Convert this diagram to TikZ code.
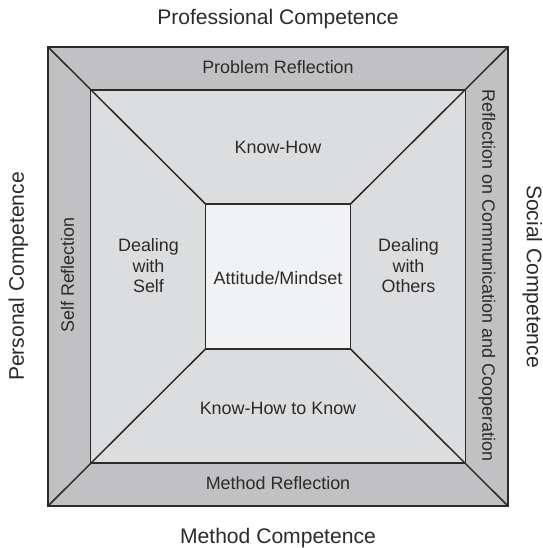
\documentclass[tikz,border=0pt]{standalone}
\usepackage{fontspec}
\setmainfont{Liberation Sans}
\definecolor{band}{HTML}{C1C1C4}
\definecolor{field}{HTML}{DCDDDF}
\definecolor{corefill}{HTML}{F1F2F4}
\definecolor{ink}{HTML}{2B2B2B}
\begin{document}
\begin{tikzpicture}[
	box/.style={draw=ink,line width=0.85pt,outer sep=0pt,inner sep=0pt},
	big/.style={font=\fontsize{12}{14}\selectfont,text=ink,anchor=base},
	small/.style={font=\fontsize{10.2}{11.7}\selectfont,text=ink,align=center}]
			\useasboundingbox(-5.56,-5.43) rectangle (5.30,5.53);
			\node[box,fill=band,minimum width=9.2cm,minimum height=9.18cm](outer) at(0,0){};
			\node[box,fill=field,minimum width=7.5cm,minimum height=7.46cm](inner) at(0,0){};
			\node[box,fill=corefill,minimum size=2.9cm](core) at(0,0){};
			\draw[ink,line width=0.85pt](outer.north west)--(core.north west);
			\draw[ink,line width=0.85pt](outer.north east)--(core.north east);
			\draw[ink,line width=0.85pt](outer.south west)--(core.south west);
			\draw[ink,line width=0.85pt](outer.south east)--(core.south east);
			% competences
			\node[big](prof) at(0,5.05){Professional Competence};
			\node[big](meth) at(0,-5.34){Method Competence};
			\node[big,rotate=90](pers) at(-5.08,0){Personal Competence};
			\node[big,rotate=-90](soc) at(4.98,0){Social Competence};
			% reflections
			\node[small,anchor=base](probref) at(0,4.06){Problem Reflection};
			\node[small,anchor=base](methref) at(0,-4.26){Method Reflection};
			\node[small,anchor=base,rotate=90](selfref) at(-4.08,0.03){Self Reflection};
			\node[small,anchor=base,rotate=-90](comref) at(4.09,0.02){Reflection on Communication and Cooperation};
			% fields
			\node[small,anchor=base](know) at(0,2.46){Know-How};
			\node[small,anchor=base](knowknow) at(0,-2.76){Know-How to Know};
			\node[small](self) at(-2.59,0.21){Dealing\\with\\Self};
			\node[small](others) at(2.61,0.21){Dealing\\with\\Others};
			\node[small,anchor=base](mind) at(0,-0.15){Attitude/Mindset};
			\end{tikzpicture}
\end{document}
